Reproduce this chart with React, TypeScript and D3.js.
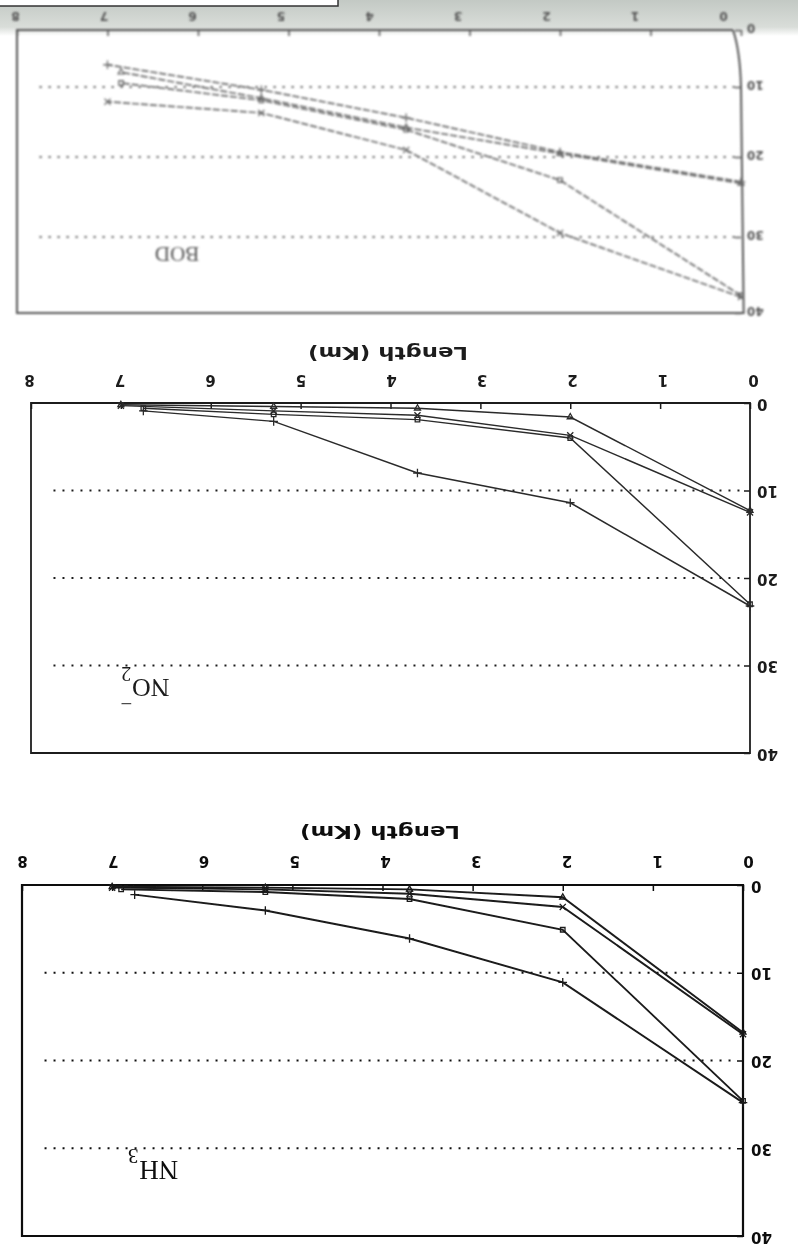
import React, { useEffect, useRef } from "react";
import * as d3 from "d3";

const W = 798;
const H = 1255;

// axis ticks
const kmTicks = [0, 1, 2, 3, 4, 5, 6, 7, 8];
const concTicks = [0, 10, 20, 30, 40];
const gridLevels = [10, 20, 30];

// BOD, [length km, value]
const bodA = [[0, 23.1], [2, 19.3], [3.7, 14.4], [5.3, 10.4], [7.0, 6.1]];
const bodB = [[0, 37.7], [2, 22.9], [3.7, 16.1], [5.3, 11.9], [6.85, 9.3]];
const bodC = [[0, 37.9], [2, 29.5], [3.7, 19.0], [5.3, 13.7], [7.0, 12.1]];
const bodD = [[0, 23.3], [2, 19.5], [3.7, 15.8], [5.3, 11.6], [6.85, 7.4]];

// NO2-
const no2A = [[0, 23.2], [2, 11.4], [3.7, 8.0], [5.3, 2.1], [6.75, 0.9]];
const no2B = [[0, 23.0], [2, 4.0], [3.7, 1.9], [5.3, 1.3], [6.75, 0.6]];
const no2C = [[0, 12.5], [2, 3.7], [3.7, 1.4], [5.3, 0.9], [7.0, 0.3]];
const no2D = [[0, 12.3], [2, 1.6], [3.7, 0.6], [5.3, 0.4], [7.0, 0.2]];

// NH3
const nh3A = [[0, 24.8], [2, 11.1], [3.7, 6.1], [5.3, 2.9], [6.75, 1.1]];
const nh3B = [[0, 24.6], [2, 5.1], [3.7, 1.6], [5.3, 0.8], [6.9, 0.5]];
const nh3C = [[0, 17.0], [2, 2.5], [3.7, 1.0], [5.3, 0.5], [7.0, 0.3]];
const nh3D = [[0, 16.8], [2, 1.4], [3.7, 0.5], [5.3, 0.3], [7.0, 0.2]];

const markers = [d3.symbolPlus, d3.symbolSquare2, d3.symbolTimes, d3.symbolTriangle2];

// the scanned page is upside down, so every panel is laid out rotated by 180 degrees
const panels = [
  {
    id: "bod", series: [bodA, bodB, bodC, bodD], x0: 741, x8: 17,
    yRange: [30, 87, 157, 237, 313], ink: "#555", lineInk: "#6a6a6a", dash: "7,2",
    lineW: 1.7, boxW: 2, blur: "b2", tickFs: 12, tickPad: 14, shift0: -18, shift8: -2,
    yPad: 6, yLabelDy: -3, title: null, lean: 8,
    label: { text: "BOD", x: 177, y: 254, fs: 21 },
  },
  {
    id: "no2", series: [no2A, no2B, no2C, no2D], x0: 750, x8: 31,
    yRange: [403, 490.5, 578, 665.5, 753], ink: "#1e1e1e", lineInk: "#2a2a2a", dash: null,
    lineW: 1.5, boxW: 1.8, blur: "b1", tickFs: 15, tickPad: 23, shift0: 3, shift8: -2,
    yPad: 7, yLabelDy: 0, title: { x: 388, y: 354 }, lean: 0,
    label: { text: "NO", sub: "2", sup: true, x: 150, y: 688, fs: 26 },
  },
  {
    id: "nh3", series: [nh3A, nh3B, nh3C, nh3D], x0: 743, x8: 22,
    yRange: [885, 972.75, 1060.5, 1148.25, 1236], ink: "#111", lineInk: "#1a1a1a", dash: null,
    lineW: 1.9, boxW: 2.2, blur: "b0", tickFs: 15, tickPad: 24, shift0: 5, shift8: 0,
    yPad: 8, yLabelDy: 0, title: { x: 380, y: 833 }, lean: 0,
    label: { text: "NH", sub: "3", sup: false, x: 158, y: 1170, fs: 27 },
  },
];

function drawPanel(root: any, p: any) {
  const g = root.append("g").attr("filter", `url(#${p.blur})`);
  const x = d3.scaleLinear().domain([0, 8]).range([p.x0, p.x8]);
  const y = d3.scaleLinear().domain(concTicks).range(p.yRange);
  // small drift of the printed labels against the tick marks
  const shift = d3.scaleLinear().domain([0, 8]).range([p.shift0, p.shift8]);

  // dotted reference levels
  g.selectAll(".lvl").data(gridLevels).join("line").attr("class", "lvl")
    .attr("x1", x(7.75)).attr("x2", x(0) - 6)
    .attr("y1", (d: number) => y(d)).attr("y2", (d: number) => y(d))
    .attr("stroke", p.ink).attr("stroke-width", 2).attr("stroke-dasharray", "2,7");

  // frame
  const y0 = y(0), y40 = y(40);
  const path = d3.path();
  path.moveTo(x(0) - p.lean, y0);
  path.lineTo(x(8), y0);
  path.lineTo(x(8), y40);
  path.lineTo(x(0) + p.lean / 3, y40);
  if (p.lean) {
    path.lineTo(x(0), y(10));
    path.quadraticCurveTo(x(0) - 1, y0 + 20, x(0) - p.lean, y0);
  } else {
    path.closePath();
  }
  g.append("path").attr("d", path.toString()).attr("fill", "none")
    .attr("stroke", p.ink).attr("stroke-width", p.boxW);

  // length axis (ticks point into the plot)
  const xa = g.append("g").attr("transform", `translate(0,${y0})`)
    .call(d3.axisTop(x).tickValues(kmTicks).tickSize(-6).tickSizeOuter(0)
      .tickPadding(p.tickPad).tickFormat(d3.format("d")));
  xa.attr("font-family", "'DejaVu Sans', sans-serif").attr("font-size", p.tickFs)
    .attr("font-weight", "bold").attr("color", p.ink);
  xa.select(".domain").remove();
  xa.selectAll("line").attr("stroke-width", 1.5);
  xa.selectAll("text")
    .attr("dy", null).attr("dominant-baseline", "central")
    .attr("x", (d: number) => shift(d))
    .attr("transform", (d: number) => `rotate(180 ${shift(d)} ${-p.tickPad})`);

  // concentration axis on the right side of the flipped page
  const ya = g.append("g").attr("transform", `translate(${x(0)},0)`)
    .call(d3.axisRight(y).tickValues(concTicks).tickSize(-6).tickSizeOuter(0).tickPadding(p.yPad));
  ya.attr("font-family", "'DejaVu Sans', sans-serif").attr("font-size", p.tickFs)
    .attr("font-weight", "bold").attr("color", p.ink);
  ya.select(".domain").remove();
  ya.selectAll("line").attr("stroke-width", 1.5);
  ya.selectAll("text")
    .attr("dy", null).attr("dominant-baseline", "central").attr("text-anchor", "end")
    .attr("y", p.yLabelDy)
    .attr("transform", `rotate(180 ${p.yPad} ${p.yLabelDy})`);

  if (p.title) {
    g.append("text").attr("x", p.title.x).attr("y", p.title.y)
      .attr("transform", `rotate(180 ${p.title.x} ${p.title.y})`)
      .attr("text-anchor", "middle").attr("dominant-baseline", "central")
      .attr("font-family", "'DejaVu Sans', sans-serif").attr("font-size", 18)
      .attr("font-weight", 600).attr("fill", p.ink)
      .attr("textLength", 160).attr("lengthAdjust", "spacingAndGlyphs")
      .text("Length (Km)");
  }

  // series
  const line = d3.line<number[]>().x((d) => x(d[0])).y((d) => y(d[1]));
  p.series.forEach((s: number[][], i: number) => {
    g.append("path").datum(s).attr("d", line).attr("fill", "none")
      .attr("stroke", p.lineInk).attr("stroke-width", p.lineW)
      .attr("stroke-dasharray", p.dash);
    g.selectAll(`.m${i}`).data(s).join("path").attr("class", `m${i}`)
      .attr("transform", (d: number[]) => `translate(${x(d[0])},${y(d[1])})`)
      .attr("d", d3.symbol(markers[i], 26))
      .attr("fill", "none").attr("stroke", p.lineInk).attr("stroke-width", 1.3);
  });

  // panel name, written upside down like the rest of the page
  const lb = p.label;
  const lg = g.append("g").attr("transform", `translate(${lb.x},${lb.y}) rotate(180)`)
    .attr("font-family", "'Liberation Serif', 'Times New Roman', serif").attr("fill", p.ink);
  if (!lb.sub) {
    lg.append("text").attr("text-anchor", "middle").attr("y", lb.fs * 0.33)
      .attr("font-size", lb.fs).text(lb.text);
  } else {
    lg.append("text").attr("x", -lb.fs * 0.75).attr("y", lb.fs * 0.33)
      .attr("font-size", lb.fs).text(lb.text);
    lg.append("text").attr("x", lb.fs * 0.72).attr("y", lb.fs * 0.33 + 12)
      .attr("font-size", lb.fs * 0.78).text(lb.sub);
    if (lb.sup) {
      lg.append("text").attr("x", lb.fs * 0.68).attr("y", -lb.fs * 0.36)
        .attr("font-size", lb.fs * 0.8).text("\u2212");
    }
  }
}

export default function App() {
  const ref = useRef<SVGSVGElement>(null);

  useEffect(() => {
    const svg = d3.select(ref.current);
    svg.selectAll("*").remove();

    const defs = svg.append("defs");
    [["b0", 0.35], ["b1", 0.45], ["b2", 0.95]].forEach(([id, s]) => {
      defs.append("filter").attr("id", id as string)
        .append("feGaussianBlur").attr("stdDeviation", s as number);
    });
    const grad = defs.append("linearGradient").attr("id", "band")
      .attr("x1", 0).attr("x2", 0).attr("y1", 0).attr("y2", 1);
    grad.append("stop").attr("offset", "0%").attr("stop-color", "#c3c9c4");
    grad.append("stop").attr("offset", "75%").attr("stop-color", "#d9ddd9");
    grad.append("stop").attr("offset", "100%").attr("stop-color", "#ffffff");

    svg.append("rect").attr("width", W).attr("height", H).attr("fill", "#fff");
    // grey shadow of the scanner lid along the top edge
    svg.append("rect").attr("width", W).attr("height", 36).attr("fill", "url(#band)");
    svg.append("rect").attr("x", -2).attr("y", -2).attr("width", 340).attr("height", 8)
      .attr("fill", "#fff").attr("stroke", "#333").attr("stroke-width", 1.5);

    panels.forEach((p) => drawPanel(svg, p));
  }, []);

  return (
    <svg ref={ref} width={W} height={H}
      style={{ position: "absolute", left: 0, top: 0, display: "block" }} />
  );
}
